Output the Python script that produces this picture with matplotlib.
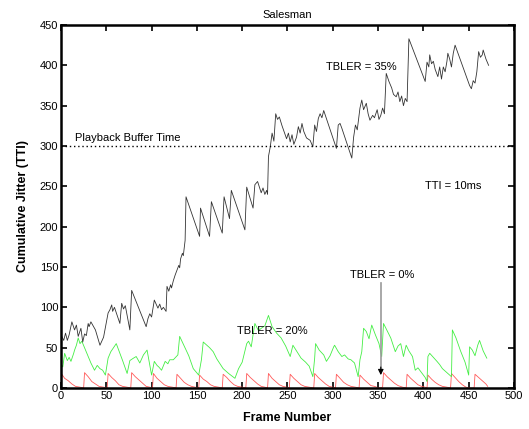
import matplotlib.pyplot as plt

plt.rcParams['font.family'] = ['Liberation Sans', 'DejaVu Sans']

# TBLER = 35% (black) vertices
black_x = [0, 3, 5, 7, 9, 12, 15, 17, 19, 22, 24, 26, 28, 30, 31, 33, 38, 43, 47, 52,
           54, 56, 57, 59, 65, 67, 69, 71, 76, 78, 94, 96, 98, 100, 103, 105, 107, 109, 111, 113,
           116, 117, 119, 121, 122, 124, 126, 128, 130, 131, 132, 134, 135, 136, 137, 138, 153, 154, 164, 166,
           178, 180, 186, 188, 203, 205, 212, 214, 217, 221, 223, 225, 227, 228, 229, 231, 233, 235, 237, 239,
           241, 244, 249, 251, 253, 255, 257, 260, 262, 264, 266, 268, 271, 275, 278, 280, 282, 284, 286, 288,
           290, 304, 306, 308, 310, 321, 323, 325, 327, 330, 332, 334, 337, 339, 341, 344, 346, 349, 351, 353,
           355, 357, 359, 362, 365, 367, 370, 372, 374, 376, 378, 380, 382, 384, 402, 404, 406, 407, 409, 411,
           413, 416, 418, 420, 422, 424, 426, 427, 429, 431, 433, 435, 451, 453, 455, 457, 459, 461, 463, 465,
           466, 469, 472]
black_y = [66, 59, 68, 59, 66, 82, 72, 78, 64, 74, 57, 67, 65, 80, 76, 82, 72, 53, 63, 93,
           97, 103, 95, 100, 80, 105, 98, 102, 72, 121, 76, 86, 92, 88, 109, 104, 99, 104, 97, 100,
           95, 126, 120, 128, 124, 133, 140, 146, 152, 149, 160, 167, 164, 174, 183, 237, 188, 223, 188, 231,
           192, 237, 210, 245, 196, 249, 223, 252, 256, 242, 248, 240, 245, 240, 287, 299, 316, 306, 340, 333,
           336, 325, 309, 316, 305, 314, 302, 311, 324, 316, 328, 318, 310, 307, 299, 326, 318, 334, 340, 335,
           344, 297, 326, 328, 322, 285, 311, 326, 320, 347, 357, 345, 353, 340, 332, 338, 335, 345, 333, 338,
           347, 340, 390, 380, 372, 364, 361, 367, 355, 362, 350, 359, 355, 433, 380, 404, 398, 413, 402, 405,
           395, 386, 398, 383, 398, 392, 405, 415, 408, 398, 415, 425, 375, 371, 381, 378, 392, 417, 410, 413,
           419, 408, 400]

# TBLER = 20% (green) vertices
green_x = [0, 2, 4, 7, 9, 11, 14, 15, 17, 19, 21, 23, 26, 29, 33, 37, 40, 43, 46, 49,
           52, 55, 58, 61, 64, 68, 73, 76, 80, 83, 87, 91, 95, 100, 103, 106, 108, 111, 115, 118,
           120, 124, 129, 131, 136, 141, 146, 152, 155, 157, 160, 164, 168, 172, 179, 185, 192, 196, 200, 205,
           207, 210, 212, 214, 218, 221, 225, 229, 233, 238, 243, 248, 253, 256, 260, 265, 270, 274, 278, 280,
           281, 285, 290, 293, 297, 301, 302, 306, 310, 313, 317, 320, 324, 328, 330, 332, 334, 337, 340, 343,
           347, 351, 354, 356, 360, 364, 369, 372, 375, 378, 381, 384, 388, 391, 394, 398, 402, 404, 405, 407,
           411, 415, 418, 421, 425, 431, 432, 436, 441, 446, 450, 451, 454, 457, 460, 462, 466, 470]
green_y = [30, 26, 43, 34, 38, 33, 43, 47, 53, 62, 55, 58, 50, 42, 31, 22, 28, 24, 22, 16,
           37, 45, 50, 55, 46, 34, 18, 34, 37, 39, 31, 41, 47, 16, 33, 28, 26, 22, 33, 30,
           35, 35, 41, 64, 52, 40, 24, 16, 35, 57, 54, 50, 45, 36, 24, 18, 12, 24, 32, 55,
           58, 51, 66, 80, 71, 74, 77, 90, 76, 68, 62, 52, 39, 53, 46, 37, 32, 27, 14, 37,
           55, 47, 41, 33, 40, 51, 53, 45, 39, 41, 36, 35, 31, 14, 35, 45, 74, 70, 61, 78,
           66, 55, 39, 80, 71, 62, 45, 52, 55, 39, 53, 46, 39, 22, 25, 19, 13, 8, 39, 43,
           38, 33, 29, 24, 20, 14, 72, 62, 46, 32, 16, 51, 47, 40, 53, 59, 46, 37]

# TBLER = 0% (red) vertices
red_x = [0, 1, 4, 8, 12, 16, 21, 25, 26, 30, 34, 38, 42, 47, 51, 52, 56, 60, 64, 68,
         73, 77, 78, 82, 86, 90, 94, 98, 101, 102, 106, 110, 114, 118, 123, 127, 128, 132, 136, 140,
         144, 148, 152, 153, 157, 161, 165, 169, 174, 178, 179, 183, 187, 191, 195, 200, 204, 205, 209, 213,
         217, 221, 225, 228, 229, 233, 237, 241, 245, 249, 252, 253, 257, 261, 265, 269, 274, 279, 280, 284,
         288, 292, 296, 300, 303, 304, 308, 312, 316, 320, 325, 329, 330, 334, 338, 342, 346, 351, 355, 356,
         360, 364, 368, 372, 377, 381, 382, 386, 390, 394, 398, 402, 404, 405, 409, 413, 417, 421, 426, 430,
         431, 435, 439, 443, 447, 452, 456, 457, 461, 465, 469, 471]
red_y = [0, 17, 12, 9, 5, 2, 1, 0, 19, 14, 8, 5, 2, 1, 0, 18, 13, 9, 4, 2,
         1, 0, 19, 14, 10, 6, 2, 1, 0, 18, 12, 8, 4, 2, 1, 0, 17, 12, 7, 4,
         2, 1, 0, 16, 11, 8, 4, 2, 1, 0, 17, 13, 8, 4, 2, 1, 0, 18, 13, 9,
         5, 2, 1, 0, 18, 12, 8, 4, 2, 1, 0, 17, 12, 8, 4, 2, 1, 0, 18, 13,
         9, 5, 2, 1, 0, 17, 12, 7, 4, 2, 1, 0, 16, 11, 7, 3, 2, 0, 1, 19,
         14, 10, 6, 3, 1, 0, 17, 12, 8, 4, 2, 1, 0, 16, 11, 7, 4, 2, 1, 0,
         18, 13, 8, 4, 1, 0, 0, 17, 13, 9, 5, 2]

buffer_time = 300
x_ticks = list(range(0, 501, 50))
y_ticks = list(range(0, 451, 50))

fig = plt.figure(figsize=(5.29, 4.29), dpi=100)
ax = fig.add_axes([0.1153, 0.0956, 0.8563, 0.8461])

ax.plot(red_x, red_y, color='#ff5a5a', lw=0.6)
ax.plot(green_x, green_y, color='#44ee44', lw=0.6)
ax.plot(black_x, black_y, color='#333333', lw=0.6)
ax.axhline(buffer_time, color='black', lw=1.0, ls=(0, (1, 2)))

ax.set_xlim(0, 500)
ax.set_ylim(0, 450)
ax.set_xticks(x_ticks)
ax.set_yticks(y_ticks)
ax.tick_params(direction='in', top=True, right=True, length=4, width=1.2, labelsize=8, pad=2)
for s in ax.spines.values():
    s.set_linewidth(1.8)

ax.set_title('Salesman', fontsize=8, pad=5)
ax.set_xlabel('Frame Number', fontsize=9, fontweight='bold', labelpad=8)
ax.set_ylabel('Cumulative Jitter (TTI)', fontsize=9, fontweight='bold', labelpad=8)

ax.text(332, 398, 'TBLER = 35%', fontsize=8, ha='center', va='center')
ax.text(15, 310, 'Playback Buffer Time', fontsize=8, ha='left', va='center')
ax.text(433, 250, 'TTI = 10ms', fontsize=8, ha='center', va='center')
ax.text(233, 71, 'TBLER = 20%', fontsize=8, ha='center', va='center')
ax.text(354, 140, 'TBLER = 0%', fontsize=8, ha='center', va='center')
# gray shaft with a black head
ax.plot([353, 353], [130, 24], color='#999999', lw=1.2)
ax.annotate('', xy=(353, 16), xytext=(353, 26),
            arrowprops=dict(arrowstyle='-|>', color='black', lw=0.8,
                            mutation_scale=8, shrinkA=0, shrinkB=0))

fig.savefig('out.png', dpi=100)
